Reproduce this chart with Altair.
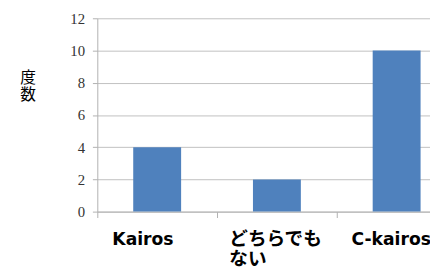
import altair as alt
import pandas as pd

categories = ["Kairos", "どちらでもない", "C-kairos"]
counts = [4, 2, 10]
y_ticks = [0, 2, 4, 6, 8, 10, 12]

df = pd.DataFrame({"cat": categories, "count": counts})

label_expr = "datum.value == 'どちらでもない' ? ['どちらでも', 'ない'] : datum.value"
is_jp = "datum.value == 'どちらでもない'"

chart = alt.Chart(df).mark_bar(color="#4F81BD", width=alt.RelativeBandSize(0.4)).encode(
    x=alt.X(
        "cat:N",
        sort=categories,
        scale=alt.Scale(range=[0, 366], paddingInner=0, paddingOuter=0),
        axis=alt.Axis(
            title=None,
            labelAngle=0,
            labelExpr=label_expr,
            labelFont={"condition": {"test": is_jp, "value": "Noto Sans CJK JP"}, "value": "DejaVu Sans"},
            labelFontSize={"condition": {"test": is_jp, "value": 19}, "value": 17.5},
            labelFontWeight="bold",
            labelColor="#000000",
            labelBaseline="top",
            labelPadding=13,
            labelLineHeight=20,
            labelAlign={"condition": {"test": is_jp, "value": "left"}, "value": "center"},
            labelOffset={"condition": [{"test": "datum.value == 'Kairos'", "value": -15},
                                       {"test": is_jp, "value": -49},
                                       {"test": "datum.value == 'C-kairos'", "value": -6}], "value": 0},
            tickBand="extent",
            tickSize=6,
            tickColor="#b0b0b0",
            domainColor="#b0b0b0",
            labelOverlap=False,
            labelBound=False,
        ),
    ),
    y=alt.Y(
        "count:Q",
        scale=alt.Scale(domain=[0, 12]),
        axis=alt.Axis(
            values=y_ticks,
            title=["度", "数"],
            titleAngle=0,
            titleX=-71,
            titleY=52,
            titleAlign="center",
            titleBaseline="top",
            titleFont="Noto Sans CJK JP",
            titleFontSize=16,
            titleFontWeight="normal",
            titleLineHeight=18,
            titleColor="#000000",
            labelFont="Liberation Serif, Times New Roman, serif",
            labelFontSize=15,
            labelColor="#333333",
            labelPadding=8,
            tickSize=5,
            tickColor="#b0b0b0",
            domainColor="#b0b0b0",
            gridColor="#c0c0c0",
            grid=True,
        ),
    ),
).properties(
    width=339,
    height=197,
    autosize=alt.AutoSizeParams(type="none"),
    padding={"left": 91, "top": 8, "right": 0, "bottom": 57},
).configure_view(stroke=None)

chart.save("out.html", embed_options={"renderer": "svg", "actions": False})
